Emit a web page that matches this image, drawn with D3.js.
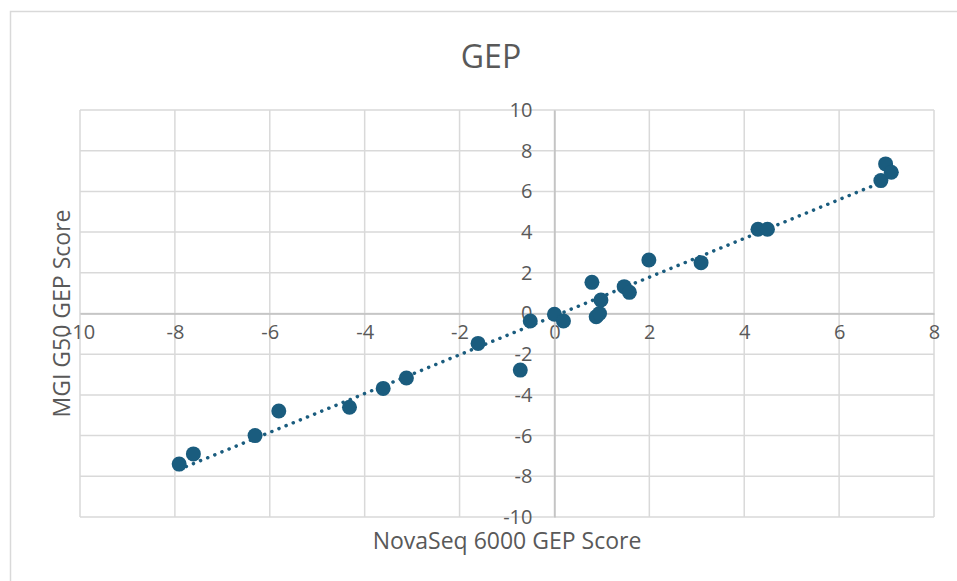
<!DOCTYPE html>
<html>
<head>
<meta charset="utf-8">
<script src="https://cdn.jsdelivr.net/npm/d3@7"></script>
<style>
  body { margin: 0; background: #fff; }
  text { font-family: "Open Sans", sans-serif; fill: #595959; }
</style>
</head>
<body>
<div id="container"></div>
<script>
const width = 957,
  height = 581,
  margin = {top: 110, bottom: 64, left: 80, right: 23},
  radius = 7.5;

// values
const novaSeq = [-7.91, -7.61, -6.31, -5.81, -4.32, -3.61, -3.12, -1.61, -0.72, -0.51, 0, 0.19,
  0.79, 0.88, 0.95, 0.98, 1.47, 1.58, 1.99, 3.09, 4.29, 4.49, 6.88, 6.98, 7.1];
const mgi = [-7.40, -6.90, -6.00, -4.79, -4.61, -3.68, -3.17, -1.47, -2.78, -0.37, -0.04, -0.37,
  1.53, -0.16, 0.0, 0.66, 1.32, 1.04, 2.63, 2.50, 4.14, 4.14, 6.53, 7.35, 6.94];
const xTicks = [-10, -8, -6, -4, -2, 0, 2, 4, 6, 8];
const yTicks = [-10, -8, -6, -4, -2, 0, 2, 4, 6, 8, 10];

const points = novaSeq.map((x, i) => ({x: x, y: mgi[i]}));
const dotColor = "#1a5c7e";

const xScale = d3.scaleLinear()
  .domain([-10, 8])
  .range([margin.left, width - margin.right]);

const yScale = d3.scaleLinear()
  .domain([-10, 10])
  .range([height - margin.bottom, margin.top]);

const svg = d3.select("#container")
  .append("svg")
  .attr("width", width)
  .attr("height", height);

// chart frame
svg.append("rect")
  .attr("x", 10.5).attr("y", 11.5)
  .attr("width", 980).attr("height", 600)
  .attr("fill", "none")
  .attr("stroke", "#d9d9d9")
  .attr("stroke-width", 1.5);

// gridlines
svg.append("g")
  .selectAll("line")
  .data(xTicks)
  .join("line")
  .attr("x1", d => xScale(d)).attr("x2", d => xScale(d))
  .attr("y1", yScale(10)).attr("y2", yScale(-10))
  .attr("stroke", "#d9d9d9")
  .attr("stroke-width", 1.5);

svg.append("g")
  .selectAll("line")
  .data(yTicks)
  .join("line")
  .attr("y1", d => yScale(d)).attr("y2", d => yScale(d))
  .attr("x1", xScale(-10)).attr("x2", xScale(8))
  .attr("stroke", "#d9d9d9")
  .attr("stroke-width", 1.5);

// axes through zero, plain hyphen for negatives like the original
const fmt = d => String(d);
const xAxis = d3.axisBottom(xScale).tickValues(xTicks).tickFormat(fmt).tickSize(0).tickPadding(21);
const yAxis = d3.axisLeft(yScale).tickValues(yTicks).tickFormat(fmt).tickSize(0).tickPadding(22);

const xAxisGroup = svg.append("g")
  .attr("transform", `translate(0,${yScale(0)})`)
  .call(xAxis);

const yAxisGroup = svg.append("g")
  .attr("transform", `translate(${xScale(0)},0)`)
  .call(yAxis);

[xAxisGroup, yAxisGroup].forEach(g => {
  g.select(".domain").attr("stroke", "#bfbfbf").attr("stroke-width", 1.5);
  g.selectAll("text")
    .attr("fill", "#595959")
    .style("font-family", "'Open Sans', sans-serif")
    .style("font-size", "20px");
});
xAxisGroup.selectAll("text").attr("dy", "0.22em");

// linear trendline (least squares)
const mx = d3.mean(novaSeq), my = d3.mean(mgi);
const slope = d3.sum(points, d => (d.x - mx) * (d.y - my)) / d3.sum(points, d => (d.x - mx) ** 2);
const intercept = my - slope * mx;
const xr = d3.extent(novaSeq);

svg.append("line")
  .attr("x1", xScale(xr[0])).attr("y1", yScale(intercept + slope * xr[0]))
  .attr("x2", xScale(xr[1])).attr("y2", yScale(intercept + slope * xr[1]))
  .attr("stroke", dotColor)
  .attr("stroke-width", 3.5)
  .attr("stroke-linecap", "round")
  .attr("stroke-dasharray", "0.1,7.6");

svg.append("g")
  .selectAll("circle.dot")
  .data(points)
  .join("circle")
  .attr("class", "dot")
  .attr("cx", d => xScale(d.x))
  .attr("cy", d => yScale(d.y))
  .attr("r", radius)
  .attr("fill", dotColor);

// titles
svg.append("text")
  .attr("x", 491).attr("y", 68)
  .attr("text-anchor", "middle")
  .style("font-size", "32px")
  .text("GEP");

svg.append("text")
  .attr("x", 507).attr("y", 549)
  .attr("text-anchor", "middle")
  .style("font-size", "23px")
  .text("NovaSeq 6000 GEP Score");

svg.append("text")
  .attr("transform", `translate(70,${yScale(0)}) rotate(-90)`)
  .attr("text-anchor", "middle")
  .style("font-size", "23px")
  .text("MGI G50 GEP Score");
</script>
</body>
</html>
